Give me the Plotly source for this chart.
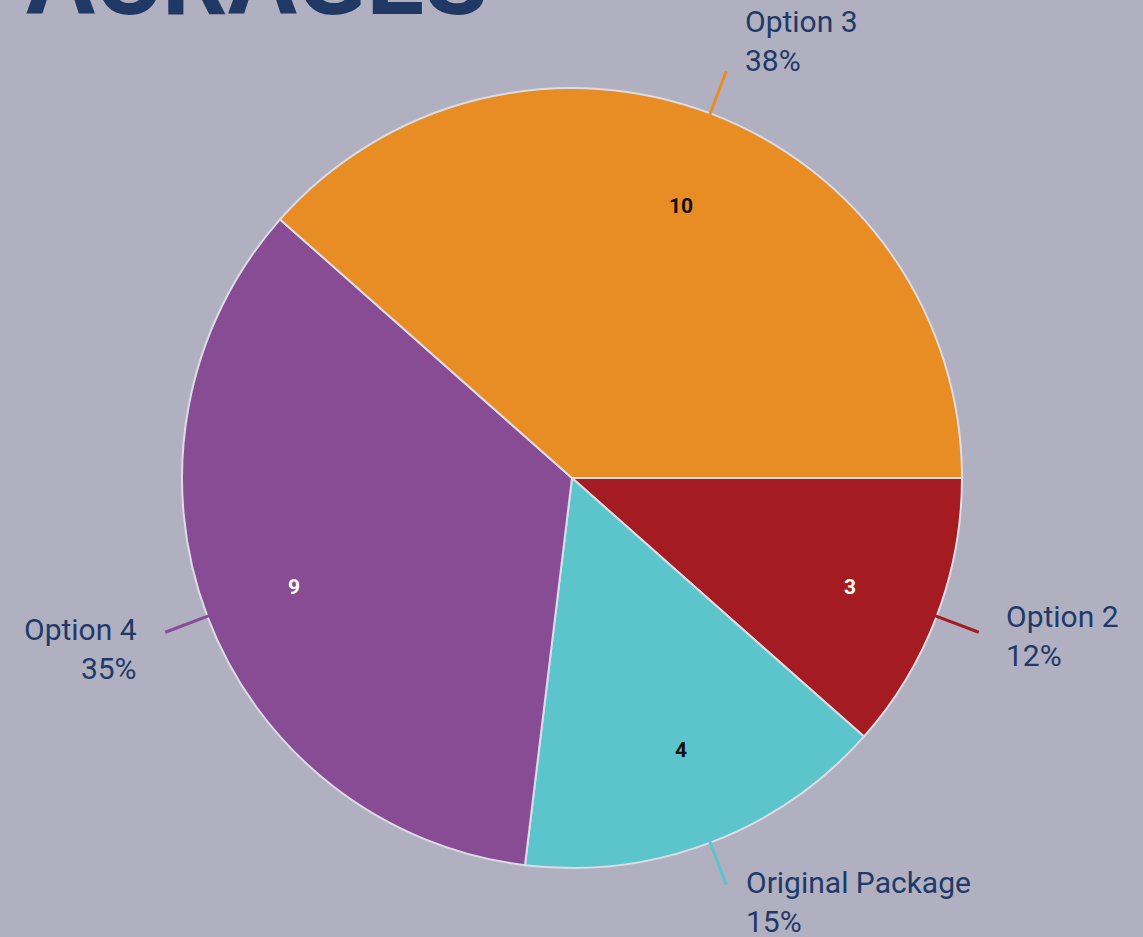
import math
import plotly.graph_objects as go

# ---- data ----
labels = ["Option 2", "Original Package", "Option 4", "Option 3"]
values = [3, 4, 9, 10]
slice_colors = ["#A41C21", "#5CC5CB", "#884C94", "#E88C24"]
inner_text_colors = ["#FFFFFF", "#111111", "#FFFFFF", "#111111"]
title_text = "ACRAGES"

# ---- layout / style ----
W, H = 1143, 937
CX, CY, R = 572, 478, 390          # pie centre & radius in px
BG = "#B1B0C1"
NAVY = "#1F3A68"
label_offsets = {                   # (dx, dy, anchor) in px from leader-line end
    "Option 2": (25, 4, "left"),
    "Original Package": (18, 17, "left"),
    "Option 4": (-26, 17, "right"),
    "Option 3": (17, -30, "left"),
}

def px2paper(x, y):
    return x / W, 1 - y / H

fig = go.Figure()
fig.add_trace(go.Pie(
    labels=labels, values=values, sort=False, direction="clockwise", rotation=90,
    marker=dict(colors=slice_colors, line=dict(color="#DCDCE6", width=2)),
    textinfo="none", hoverinfo="label+value+percent", showlegend=False,
    domain=dict(x=[(CX - R) / W, (CX + R) / W], y=[1 - (CY + R) / H, 1 - (CY - R) / H]),
))

total = sum(values)
cum = 0
annotations = []
shapes = []
for lab, v, col, tcol in zip(labels, values, slice_colors, inner_text_colors):
    mid = (cum + v / 2) / total
    cum += v
    ang = -2 * math.pi * mid          # clockwise from 3 o'clock
    ca, sa = math.cos(ang), math.sin(ang)
    # inner value label
    ix, iy = px2paper(CX + 0.785 * R * ca, CY - 0.785 * R * sa)
    annotations.append(dict(x=ix, y=iy, xref="paper", yref="paper", text=str(v), showarrow=False,
                            font=dict(family="Roboto", size=21, color=tcol, weight="bold")))
    # leader line
    x0, y0 = CX + (R - 2) * ca, CY - (R - 2) * sa
    x1, y1 = CX + (R + 45) * ca, CY - (R + 45) * sa
    p0, p1 = px2paper(x0, y0), px2paper(x1, y1)
    shapes.append(dict(type="line", xref="paper", yref="paper", x0=p0[0], y0=p0[1], x1=p1[0], y1=p1[1],
                       line=dict(color=col, width=3)))
    # outer label
    dx, dy, anc = label_offsets[lab]
    lx, ly = px2paper(x1 + dx, y1 + dy)
    pct = round(100 * v / total)
    annotations.append(dict(x=lx, y=ly, xref="paper", yref="paper", text=f"{lab}<br>{pct}%",
                            showarrow=False, xanchor=anc, yanchor="middle", align=anc,
                            font=dict(family="Roboto", size=30, color=NAVY)))

annotations.append(dict(x=24 / W, y=1 - 41 / H, xref="paper", yref="paper", text=title_text,
                        showarrow=False, xanchor="left", yanchor="bottom",
                        font=dict(family="Roboto", size=103, color="#1F3864", weight="bold")))

fig.update_layout(width=W, height=H, margin=dict(l=0, r=0, t=0, b=0),
                  paper_bgcolor=BG, plot_bgcolor=BG,
                  annotations=annotations, shapes=shapes)
fig.write_html("out.html", config={"displayModeBar": False},
               post_script="document.body.style.margin='0';")
